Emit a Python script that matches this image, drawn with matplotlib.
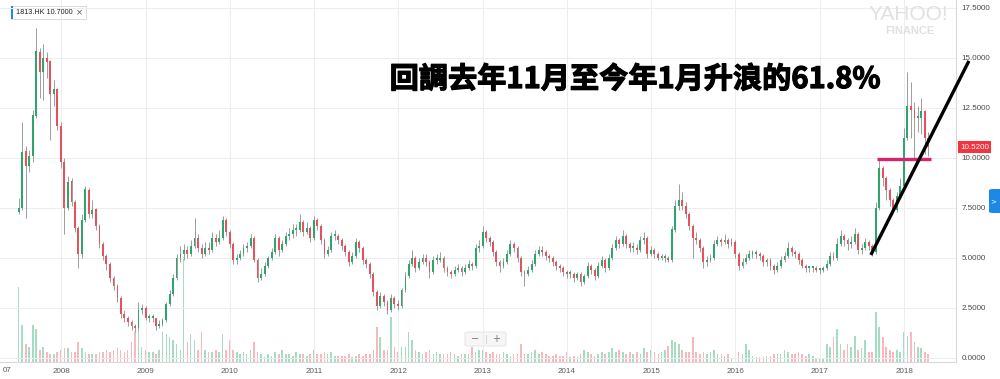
"""
Weekly-style candlestick chart of 1813.HK (mid-2007 to Apr 2018) in the Yahoo
Finance look, with the trend line, the 61.8% retracement level and the headline.
Prices are semi-monthly OHLC read off the screenshot; volumes are relative.
"""
import numpy as np
import pandas as pd
import matplotlib

matplotlib.use("Agg")
import matplotlib.pyplot as plt  # noqa: E402
import matplotlib.dates as mdates  # noqa: E402
import matplotlib.transforms as mtransforms  # noqa: E402
import matplotlib.patheffects as pe  # noqa: E402
from matplotlib.patches import Rectangle, FancyBboxPatch  # noqa: E402

W, H = 1000, 379

# --- data: semi-monthly candles starting 2007-07-01 -------------------------
START = "2007-07-01"
FIRST_OPEN = 7.3
CLOSE = [
    7.5, 10.3, 9.6, 10.1, 12.1, 15.3, 14.3, 15.0, 14.8, 13.2, 13.4, 11.6,
    9.8, 7.5, 8.8, 7.8, 6.5, 5.2, 6.9, 8.4, 7.2, 7.4, 6.6, 5.7,
    5.1, 4.7, 4.0, 3.6, 3.0, 2.2, 2.0, 1.8, 1.6, 1.5, 2.4, 2.5,
    2.0, 2.0, 2.0, 1.6, 1.7, 1.9, 2.7, 3.2, 4.0, 5.0, 5.2, 5.4,
    5.2, 5.6, 6.0, 5.5, 5.2, 5.5, 5.4, 6.0, 5.8, 6.0, 6.9, 6.3,
    5.7, 4.9, 5.0, 5.2, 5.5, 5.6, 6.0, 4.9, 4.0, 4.2, 4.6, 5.0,
    5.3, 6.0, 5.4, 5.7, 6.1, 6.2, 6.4, 6.4, 6.8, 6.3, 6.5, 6.0,
    6.9, 6.6, 5.9, 5.2, 5.4, 6.1, 6.1, 5.9, 5.6, 5.3, 4.8, 5.1,
    5.8, 5.5, 4.9, 4.7, 4.2, 3.3, 2.6, 3.1, 2.8, 2.4, 3.0, 2.7,
    2.6, 3.4, 4.1, 4.7, 5.0, 4.5, 4.8, 5.0, 4.8, 4.3, 4.9, 4.9,
    5.0, 4.5, 4.3, 4.2, 4.4, 4.5, 4.3, 4.5, 4.7, 4.6, 5.5, 5.6,
    6.3, 6.0, 5.8, 5.3, 4.8, 4.6, 4.8, 5.2, 5.7, 5.5, 5.0, 4.3,
    4.2, 4.4, 4.7, 5.2, 5.4, 5.3, 5.1, 5.0, 4.8, 4.6, 4.5, 4.3,
    4.2, 4.2, 4.0, 4.2, 3.8, 4.1, 4.6, 4.4, 4.1, 4.6, 4.9, 4.5,
    5.0, 5.5, 5.9, 5.7, 6.1, 5.7, 5.5, 5.5, 5.4, 5.9, 6.0, 5.2,
    5.4, 5.2, 5.0, 5.0, 5.0, 4.9, 6.4, 7.6, 7.9, 7.6, 7.2, 6.6,
    6.0, 5.9, 5.5, 4.8, 4.9, 5.0, 5.7, 5.9, 5.8, 5.9, 5.7, 5.8,
    5.2, 4.6, 4.8, 5.0, 5.2, 5.2, 5.2, 5.1, 4.8, 4.9, 4.6, 4.4,
    4.6, 4.9, 5.1, 5.5, 5.3, 5.2, 4.9, 4.6, 4.5, 4.5, 4.5, 4.4,
    4.4, 4.5, 4.7, 5.1, 5.0, 5.7, 6.1, 5.9, 5.7, 5.8, 6.2, 5.4,
    5.5, 5.8, 5.6, 5.3, 7.5, 9.5, 9.0, 8.4, 7.9, 7.4, 8.1, 8.6,
    11.0, 12.6, 12.4, 12.0, 12.0, 12.3, 11.0, 10.52,
]
HIGH = [
    8.0, 11.8, 10.6, 10.4, 12.4, 16.5, 15.5, 15.7, 15.3, 14.9, 13.9, 13.5,
    11.8, 10.0, 9.1, 9.0, 7.9, 6.6, 7.2, 8.6, 8.5, 7.9, 7.5, 6.7,
    5.8, 5.2, 4.8, 4.1, 3.7, 3.1, 2.4, 2.1, 1.9, 1.7, 2.8, 2.7,
    2.6, 2.2, 2.2, 2.0, 1.9, 2.0, 2.8, 3.4, 4.2, 5.2, 5.6, 5.7,
    5.6, 5.9, 7.0, 6.2, 5.7, 5.8, 5.8, 6.3, 6.2, 6.4, 7.1, 7.0,
    6.4, 5.8, 5.2, 5.4, 5.7, 5.8, 6.2, 6.1, 5.0, 4.5, 4.8, 5.1,
    5.5, 6.2, 6.1, 5.9, 6.3, 6.5, 6.7, 6.7, 7.2, 6.9, 6.8, 6.6,
    7.1, 7.0, 6.7, 6.0, 5.6, 6.3, 6.4, 6.2, 6.0, 5.7, 5.4, 5.3,
    6.0, 5.9, 5.6, 5.0, 4.8, 4.3, 3.4, 3.3, 3.2, 2.9, 3.2, 3.1,
    2.9, 3.5, 4.3, 4.9, 5.4, 5.1, 5.0, 5.2, 5.2, 4.9, 5.1, 5.2,
    5.3, 5.1, 4.6, 4.4, 4.6, 4.7, 4.6, 4.7, 4.9, 4.8, 5.7, 5.9,
    6.6, 6.4, 6.1, 5.9, 5.4, 4.9, 5.0, 5.4, 5.9, 5.8, 5.6, 5.1,
    4.4, 4.6, 4.9, 5.4, 5.6, 5.6, 5.4, 5.2, 5.1, 4.9, 4.7, 4.6,
    4.4, 4.4, 4.3, 4.3, 4.3, 4.2, 4.8, 4.7, 4.5, 4.8, 5.1, 5.0,
    5.2, 5.7, 6.1, 6.0, 6.4, 6.2, 5.8, 5.8, 5.7, 6.1, 6.3, 6.1,
    5.6, 5.5, 5.3, 5.2, 5.2, 5.1, 6.6, 7.9, 8.7, 8.3, 7.8, 7.3,
    6.7, 6.3, 6.0, 5.6, 5.1, 5.2, 5.9, 6.1, 6.0, 6.2, 6.0, 6.0,
    5.9, 5.3, 5.0, 5.2, 5.4, 5.4, 5.4, 5.3, 5.2, 5.0, 5.0, 4.7,
    4.8, 5.1, 5.3, 5.8, 5.6, 5.4, 5.3, 5.0, 4.7, 4.6, 4.6, 4.6,
    4.5, 4.6, 4.9, 5.3, 5.3, 6.0, 6.4, 6.2, 6.0, 6.1, 6.5, 6.3,
    5.7, 6.0, 5.9, 5.7, 7.8, 9.9, 9.6, 9.1, 8.5, 8.0, 8.3, 9.0,
    11.5, 14.3, 13.8, 12.8, 12.6, 13.0, 12.4, 11.3,
]
LOW = [
    7.2, 7.4, 7.0, 9.3, 9.8, 12.0, 13.0, 12.9, 14.0, 10.9, 12.6, 11.4,
    9.5, 6.2, 7.4, 7.6, 6.3, 4.5, 5.0, 6.8, 7.0, 7.0, 6.4, 5.5,
    4.9, 4.4, 3.8, 3.4, 2.8, 2.0, 1.8, 1.6, 1.4, 1.3, 1.4, 2.2,
    1.9, 1.8, 1.8, 1.4, 1.5, 1.6, 1.8, 2.6, 3.1, 3.9, 4.8, 4.9,
    5.0, 5.1, 5.5, 5.3, 5.0, 5.1, 5.2, 5.3, 5.6, 5.7, 5.9, 6.1,
    5.5, 4.7, 4.7, 4.9, 5.1, 5.3, 5.5, 4.8, 3.8, 3.9, 4.1, 4.5,
    4.9, 5.2, 5.1, 5.3, 5.6, 5.9, 6.0, 6.1, 6.3, 6.1, 6.2, 5.8,
    5.9, 6.4, 5.7, 5.0, 5.1, 5.3, 5.9, 5.7, 5.4, 5.1, 4.6, 4.7,
    5.0, 5.3, 4.7, 4.5, 4.0, 3.1, 2.4, 2.5, 2.6, 2.2, 2.3, 2.5,
    2.4, 2.5, 3.3, 4.0, 4.6, 4.3, 4.4, 4.7, 4.6, 4.0, 4.2, 4.7,
    4.8, 4.3, 4.1, 4.0, 4.1, 4.3, 4.1, 4.2, 4.4, 4.4, 4.5, 5.3,
    5.5, 5.8, 5.6, 5.1, 4.6, 4.3, 4.5, 4.7, 5.1, 5.3, 4.8, 4.1,
    3.6, 4.1, 4.3, 4.6, 5.1, 5.1, 4.9, 4.8, 4.6, 4.4, 4.3, 4.1,
    4.0, 4.0, 3.8, 3.9, 3.6, 3.7, 4.0, 4.2, 3.9, 4.0, 4.5, 4.3,
    4.4, 4.9, 5.4, 5.5, 5.6, 5.5, 5.3, 5.3, 5.2, 5.3, 5.7, 5.0,
    5.1, 5.0, 4.9, 4.9, 4.8, 4.8, 4.8, 6.3, 7.4, 7.4, 7.0, 6.4,
    5.0, 5.7, 5.3, 4.5, 4.6, 4.8, 4.9, 5.6, 5.6, 5.7, 5.5, 5.6,
    5.0, 4.4, 4.5, 4.7, 4.9, 5.0, 5.0, 4.9, 4.6, 4.6, 4.4, 4.2,
    4.3, 4.5, 4.8, 5.0, 5.1, 5.0, 4.7, 4.5, 4.3, 4.3, 4.3, 4.3,
    4.2, 4.3, 4.4, 4.6, 4.9, 4.9, 5.6, 5.6, 5.4, 5.5, 5.7, 5.2,
    5.2, 5.4, 5.4, 5.1, 5.2, 7.4, 8.6, 7.9, 7.6, 7.3, 7.3, 8.0,
    8.5, 10.9, 11.0, 10.0, 11.3, 11.2, 10.2, 10.1,
]
VOLUME = [
    75, 37, 18, 15, 37, 33, 12, 15, 10, 8, 8, 10,
    12, 14, 14, 10, 10, 20, 14, 10, 8, 8, 8, 10,
    10, 12, 10, 12, 14, 12, 10, 12, 20, 30, 33, 15,
    12, 10, 10, 8, 12, 30, 28, 25, 22, 18, 12, 105,
    20, 28, 22, 12, 30, 12, 10, 10, 12, 10, 28, 12,
    22, 12, 10, 8, 10, 8, 12, 20, 10, 8, 5, 8,
    6, 10, 8, 12, 8, 8, 6, 10, 8, 8, 6, 8,
    12, 8, 8, 10, 8, 10, 6, 6, 6, 6, 8, 5,
    6, 8, 6, 8, 8, 12, 35, 25, 12, 12, 45, 15,
    10, 15, 15, 30, 22, 12, 10, 8, 10, 12, 8, 10,
    8, 8, 8, 10, 8, 6, 8, 8, 8, 15, 10, 12,
    12, 10, 8, 10, 8, 8, 10, 8, 6, 8, 8, 18,
    8, 8, 10, 12, 8, 10, 8, 6, 6, 8, 6, 6,
    10, 5, 6, 5, 8, 12, 10, 8, 6, 8, 10, 8,
    10, 14, 10, 12, 10, 8, 10, 8, 10, 8, 14, 10,
    12, 10, 8, 10, 12, 16, 22, 20, 18, 12, 10, 10,
    25, 10, 8, 10, 8, 10, 12, 8, 8, 6, 8, 4,
    6, 10, 8, 18, 12, 6, 5, 5, 5, 6, 6, 8,
    8, 8, 12, 10, 8, 8, 10, 8, 6, 8, 6, 4,
    4, 4, 18, 15, 25, 33, 18, 12, 18, 15, 26, 12,
    14, 22, 10, 10, 50, 35, 25, 15, 12, 10, 12, 10,
    30, 26, 30, 20, 15, 14, 10, 8,
]
YEARS = list(range(2008, 2019))
PRICE_TICKS = [0, 2.5, 5, 7.5, 10, 12.5, 15, 17.5]
LAST_PRICE = 10.52

TICKER = "1813.HK 10.7000"
HEADLINE = "回調去年11月至今年1月升浪的61.8%"
TREND = (("2017-08-10", 5.13), ("2018-10-09", 14.83))
LEVEL = (("2017-09-04", "2018-04-26"), 9.93)

UP, DOWN, WICK = "#2ea56b", "#e8505b", "#9c9c9c"
VOL_UP, VOL_DOWN = "#a6dcc3", "#f7b9bd"
GRID = "#ededed"


def fpx(x, y):
    """Figure-pixel (top-left origin) to figure fraction."""
    return x / W, 1 - y / H


dates = pd.date_range(START, periods=len(CLOSE), freq="SMS")
xd = mdates.date2num(dates)
close = np.array(CLOSE)
opens = np.concatenate([[FIRST_OPEN], close[:-1]])
up = close >= opens

fig = plt.figure(figsize=(W / 100, H / 100), dpi=100)
fig.patch.set_facecolor("white")
rect = [0, 17 / H, 956 / W, 362 / H]
ax = fig.add_axes(rect)
ax_vol = ax.twinx()
ax.set_zorder(ax_vol.get_zorder() + 1)
ax.patch.set_visible(False)
ax_vol.patch.set_facecolor("white")

# volume
ax_vol.bar(xd, VOLUME, width=7, color=np.where(up, VOL_UP, VOL_DOWN), linewidth=0)
ax_vol.set_ylim(0, 362)
ax_vol.set_yticks([])
for s in ax_vol.spines.values():
    s.set_visible(False)

# candles
ax.vlines(xd, LOW, HIGH, color=WICK, linewidth=0.7, zorder=2)
body_lo = np.minimum(opens, close)
body_h = np.maximum(np.abs(close - opens), 0.06)
ax.bar(xd, body_h, bottom=body_lo, width=8, color=np.where(up, UP, DOWN),
       linewidth=0, zorder=3)

left = pd.Timestamp("2007-04-11")
right = pd.Timestamp("2018-08-14")
ax.set_xlim(mdates.date2num(left), mdates.date2num(right))
ax.set_ylim((357.5 - 362) / 20, 357.5 / 20)

ax.set_yticks(PRICE_TICKS)
ax.set_yticklabels([f"{v:.4f}" for v in PRICE_TICKS])
ax.yaxis.tick_right()
ax.tick_params(axis="y", length=0, pad=4, labelsize=5.8, labelcolor="#4a4a4a")
for t in ax.get_yticklabels():
    t.set_family("Liberation Sans")

year_pos = [mdates.date2num(pd.Timestamp(f"{y}-01-01")) for y in YEARS]
ax.set_xticks(year_pos)
ax.set_xticklabels([str(y) for y in YEARS])
ax.tick_params(axis="x", length=0, pad=4, labelsize=5.8, labelcolor="#5a5a5a")
for t in ax.get_xticklabels():
    t.set_family("Liberation Sans")
# the 2007 label sits half off the left edge; only its last two digits show
ax.text(3 / 956, -5.5 / 362, "07", transform=ax.transAxes, ha="left",
        va="top", fontsize=5.8, color="#5a5a5a", family="Liberation Sans",
        clip_on=False)

ax.grid(True, color=GRID, linewidth=0.7)
ax.set_axisbelow(True)
for side in ("top", "left"):
    ax.spines[side].set_visible(False)
for side in ("right", "bottom"):
    ax.spines[side].set_color("#d9d9d9")
    ax.spines[side].set_linewidth(0.8)

# annotations
(t0, p0), (t1, p1) = TREND
ax.plot([pd.Timestamp(t0), pd.Timestamp(t1)], [p0, p1], color="black",
        linewidth=2.4, solid_capstyle="butt", clip_on=False, zorder=6)
(l0, l1), lev = LEVEL
ax.plot([pd.Timestamp(l0), pd.Timestamp(l1)], [lev, lev], color="#d6246e",
        linewidth=2.4, solid_capstyle="butt", zorder=5)

blend = mtransforms.blended_transform_factory(ax.transAxes, ax.transData)
ax.text(1 + 4 / 956, LAST_PRICE, f"{LAST_PRICE:.4f}", transform=blend,
        ha="left", va="center", fontsize=5.8, color="white",
        family="Liberation Sans", clip_on=False, zorder=7,
        bbox=dict(boxstyle="square,pad=0.3", fc="#f5333f", ec="none"))

fig.text(*fpx(635, 79), HEADLINE, ha="center", va="center", fontsize=21,
         weight="black", color="black",
         family=["Noto Sans CJK TC", "DejaVu Sans"],
         path_effects=[pe.withStroke(linewidth=0.9, foreground="black")])

# Yahoo chrome: ticker box, watermark, side tab, zoom buttons
fig.add_artist(Rectangle(fpx(11, 19), 75 / W, 13 / H, transform=fig.transFigure,
                         fc="white", ec="#d4d4d4", lw=0.6))
fig.add_artist(Rectangle(fpx(11, 19), 1.8 / W, 13 / H, transform=fig.transFigure,
                         fc="#1e88e5", ec="none"))
fig.text(*fpx(16, 12.5), TICKER, ha="left", va="center", fontsize=5.2,
         color="#222222", family="Liberation Sans")
fig.text(*fpx(79.5, 12.5), "×", ha="center", va="center", fontsize=6,
         color="#555555", family="DejaVu Sans")

fig.text(*fpx(908, 15), "YAHOO!", ha="center", va="center", fontsize=15,
         color="#e1e1e1", family="Liberation Sans")
fig.text(*fpx(910, 30.5), "FINANCE", ha="center", va="center", fontsize=8,
         weight="bold", color="#e1e1e1", family="Liberation Sans")

fig.add_artist(FancyBboxPatch(fpx(989, 213), 14 / W, 24 / H,
                              boxstyle="round,pad=0,rounding_size=0.004",
                              transform=fig.transFigure, fc="#1e88e5", ec="none"))
fig.text(*fpx(993, 201), ">", ha="center", va="center", fontsize=5,
         color="white", family="DejaVu Sans")

fig.add_artist(FancyBboxPatch(fpx(465, 346), 41 / W, 14 / H,
                              boxstyle="round,pad=0,rounding_size=0.003",
                              transform=fig.transFigure, fc="#f6f6f6",
                              ec="#e2e2e2", lw=0.6))
fig.text(*fpx(475.5, 339), "−", ha="center", va="center", fontsize=7,
         color="#777777", family="DejaVu Sans")
fig.text(*fpx(496, 339), "+", ha="center", va="center", fontsize=7,
         color="#777777", family="DejaVu Sans")
fig.add_artist(plt.Line2D([486 / W, 486 / W], [1 - 335 / H, 1 - 343 / H],
                          transform=fig.transFigure, color="#cfcfcf", lw=0.6))

fig.savefig("out.png", dpi=100)
